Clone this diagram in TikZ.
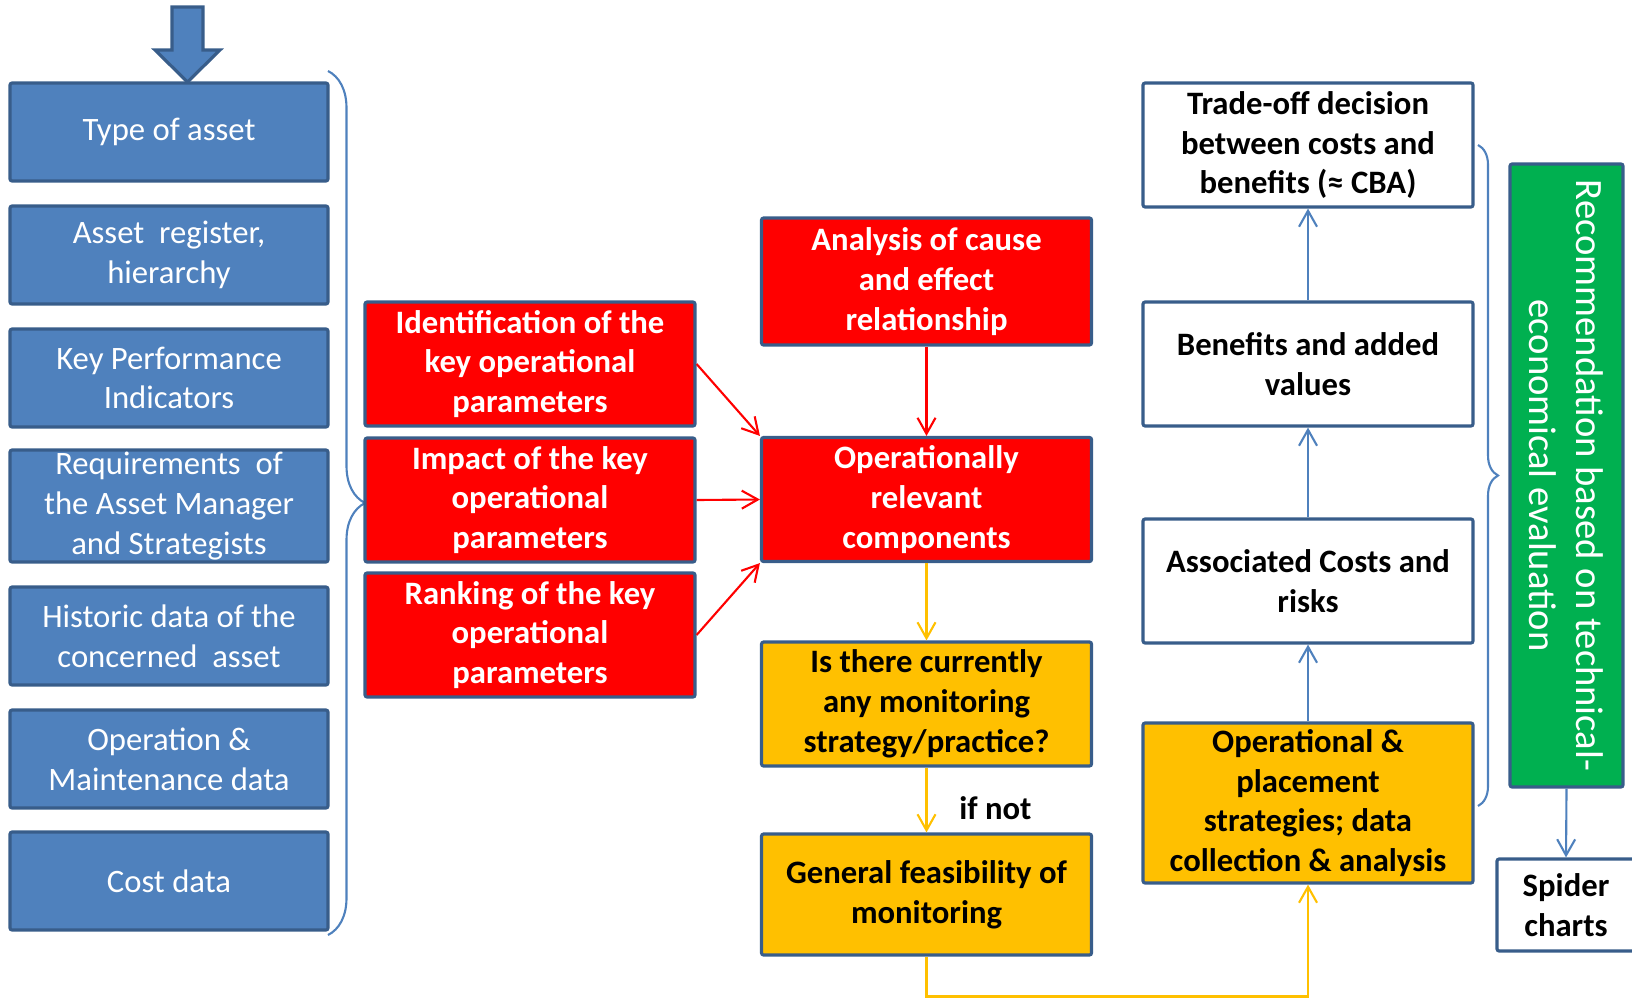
\documentclass[tikz,border=0pt]{standalone}
\usepackage{fontspec}
\setmainfont{Carlito}
\usetikzlibrary{arrows.meta,decorations.pathreplacing}

\definecolor{assetblue}{HTML}{4F81BD}
\definecolor{boxline}{HTML}{385D8A}
\definecolor{keyred}{HTML}{FF0000}
\definecolor{monyellow}{HTML}{FFC000}
\definecolor{recgreen}{HTML}{00B050}

\tikzset{
  box/.style={draw=boxline, line width=0.9pt, rounded corners=0.6pt, align=center, inner sep=0pt,
    minimum width=3.3cm, minimum height=1.24cm, font=\fontsize{9.3}{11.3}\selectfont\bfseries},
  bluebox/.style={box, fill=assetblue, text=white, minimum width=3.18cm, minimum height=0.98cm,
    font=\fontsize{9.3}{11.3}\selectfont},
  redbox/.style={box, fill=keyred, text=white},
  yellowbox/.style={box, fill=monyellow},
  whitebox/.style={box, fill=white},
  flow/.style={-{Straight Barb[length=1.6mm,width=1.8mm]}, line width=0.6pt},
  bracket/.style={assetblue, line width=0.6pt, decorate},
}

\begin{document}
\begin{tikzpicture}
  \useasboundingbox (0,0) rectangle (16.32,9.98);

  % input arrow
  \draw[boxline, fill=assetblue, line width=0.9pt] (1.72,9.91) -- (2.03,9.91) -- (2.03,9.48) -- (2.20,9.48)
    -- (1.875,9.16) -- (1.55,9.48) -- (1.72,9.48) -- cycle;

  % asset data
  \node[bluebox] (type) at (1.69,8.66) {Type of asset};
  \node[bluebox] (register) at (1.69,7.43) {Asset\ \ register,\\hierarchy};
  \node[bluebox] (kpi) at (1.69,6.20) {Key Performance\\Indicators};
  \node[bluebox, minimum height=1.12cm] (require) at (1.69,4.92) {Requirements\ \ of\\the Asset Manager\\and Strategists};
  \node[bluebox] (historic) at (1.69,3.62) {Historic data of the\\concerned\ \ asset};
  \node[bluebox] (omdata) at (1.69,2.39) {Operation \&\\Maintenance data};
  \node[bluebox] (cost) at (1.69,1.17) {Cost data};
  \draw[bracket, decoration={brace, amplitude=0.37cm}] (3.28,9.27) -- (3.28,0.63);

  % key parameters
  \node[redbox] (ident) at (5.30,6.34) {Identification of the\\key operational\\parameters};
  \node[redbox] (impact) at (5.30,4.98) {Impact of the key\\operational\\parameters};
  \node[redbox] (rank) at (5.30,3.63) {Ranking of the key\\operational\\parameters};

  \node[redbox, minimum height=1.27cm] (analysis) at (9.265,7.165) {Analysis of cause\\and effect\\relationship};
  \node[redbox] (oprel) at (9.265,4.985) {Operationally\\relevant\\components};
  \node[yellowbox] (monitor) at (9.265,2.94) {Is there currently\\any monitoring\\strategy/practice?};
  \node[yellowbox, minimum height=1.21cm] (feasib) at (9.265,1.035) {General feasibility of\\monitoring};

  \draw[flow, keyred] (ident.east) -- (oprel.north west);
  \draw[flow, keyred] (impact.east) -- (oprel.west);
  \draw[flow, keyred] (rank.east) -- (oprel.south west);
  \draw[flow, keyred] (analysis.south) -- (oprel.north);
  \draw[flow, monyellow] (oprel.south) -- (monitor.north);
  \draw[flow, monyellow] (monitor.south) -- (feasib.north)
    node[pos=0.62, right=0.2cm, text=black, font=\fontsize{9.3}{11.3}\selectfont\bfseries] (ifnot) {if not};

  % evaluation
  \node[whitebox] (tradeoff) at (13.08,8.53) {Trade-off decision\\between costs and\\benefits (≈ CBA)};
  \node[whitebox] (benefit) at (13.08,6.34) {Benefits and added\\values};
  \node[whitebox] (assoc) at (13.08,4.17) {Associated Costs and\\risks};
  \node[yellowbox, minimum height=1.60cm] (opstrat) at (13.08,1.95) {Operational \&\\placement\\strategies; data\\collection \& analysis};

  \coordinate (low) at (9.265,0.015);
  \draw[flow, monyellow] (feasib.south) -- (low) -| (opstrat.south);
  \draw[flow, assetblue] (opstrat.north) -- (assoc.south);
  \draw[flow, assetblue] (assoc.north) -- (benefit.south);
  \draw[flow, assetblue] (benefit.north) -- (tradeoff.south);
  \draw[bracket, decoration={brace, amplitude=0.2cm}] (14.78,8.53) -- (14.78,1.92);

  % recommendation
  \node[box, fill=recgreen, text=white, rotate=-90, minimum width=6.23cm, minimum height=1.13cm,
    font=\fontsize{11}{13.3}\selectfont] (recom) at (15.665,5.225)
    {Recommendation based on technical-\\economical evaluation};
  \node[whitebox, minimum width=1.38cm, minimum height=0.92cm] (spider) at (15.66,0.93) {Spider\\charts};
  \draw[flow, assetblue] (recom.east) -- (spider.north);
\end{tikzpicture}
\end{document}
